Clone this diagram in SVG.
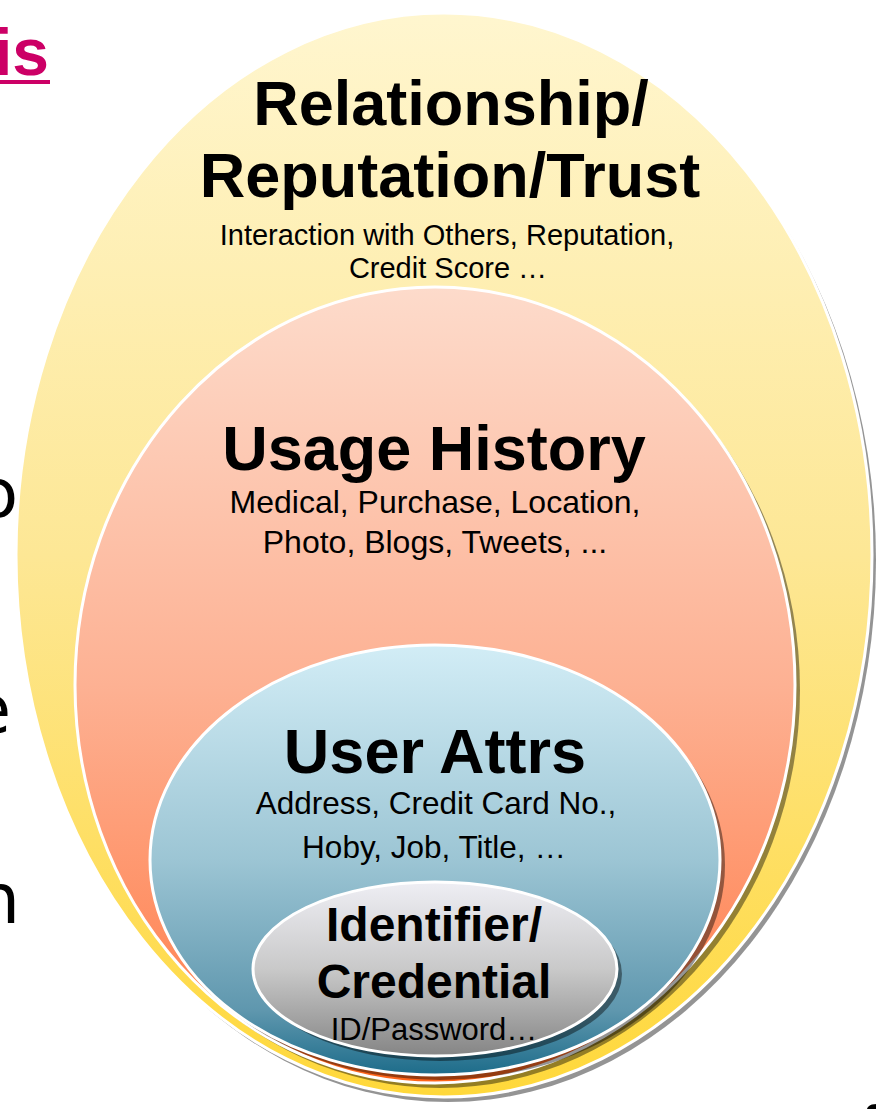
<svg xmlns="http://www.w3.org/2000/svg" width="876" height="1109" viewBox="0 0 876 1109">
<defs>
<linearGradient id="gY" x1="0" y1="0" x2="0" y2="1">
<stop offset="0" stop-color="#fff6cf"/>
<stop offset="0.5" stop-color="#fde795"/>
<stop offset="1" stop-color="#ffd83a"/>
</linearGradient>
<linearGradient id="gS" x1="0" y1="0" x2="0" y2="1">
<stop offset="0" stop-color="#fddbcb"/>
<stop offset="0.5" stop-color="#fdb193"/>
<stop offset="0.85" stop-color="#ff8a5c"/>
<stop offset="1" stop-color="#ff6418"/>
</linearGradient>
<linearGradient id="gB" x1="0" y1="0" x2="0" y2="1">
<stop offset="0" stop-color="#d2edf6"/>
<stop offset="0.5" stop-color="#9cc5d4"/>
<stop offset="0.85" stop-color="#5f97ae"/>
<stop offset="1" stop-color="#1d6c8a"/>
</linearGradient>
<linearGradient id="gG" x1="0" y1="0" x2="0" y2="1">
<stop offset="0" stop-color="#eeeef4"/>
<stop offset="0.5" stop-color="#c9c9c9"/>
<stop offset="1" stop-color="#858585"/>
</linearGradient>
</defs>
<style>
.shadow{fill:#000;opacity:0.42}
.ell{stroke:#fff;stroke-width:3}
.title{font-family:"Liberation Sans",Arial,sans-serif;font-weight:bold;fill:#000;text-anchor:middle}
.sub{font-family:"Liberation Sans",Arial,sans-serif;fill:#000;text-anchor:middle}
.side{font-family:"DejaVu Sans","Liberation Sans",sans-serif;fill:#000;text-anchor:end}
</style>
<g id="slide-text">
<text x="49" y="75" font-family="Liberation Sans, Arial, sans-serif" font-weight="bold" font-size="66" fill="#cc0066" text-anchor="end">is</text>
<rect x="0" y="80" width="50" height="4" fill="#cc0066"/>
<text class="side" x="18" y="517" font-size="68">o</text>
<text class="side" x="11" y="733" font-size="68">e</text>
<text class="side" x="20" y="923" font-size="70">n</text>
<text x="860" y="1152" font-family="Liberation Sans, Arial, sans-serif" font-weight="bold" font-size="66" fill="#000">f</text>
</g>
<g id="node-relationship">
<ellipse class="shadow" cx="448" cy="560" rx="428" ry="542"/>
<ellipse class="ell" cx="444" cy="555" rx="428" ry="542" fill="url(#gY)"/>
<text class="title" x="451" y="125" font-size="63">Relationship/</text>
<text class="title" x="450" y="197" font-size="63">Reputation/Trust</text>
<text class="sub" x="447" y="245" font-size="29">Interaction with Others, Reputation,</text>
<text class="sub" x="448" y="278" font-size="29">Credit Score …</text>
</g>
<g id="node-usage">
<ellipse class="shadow" cx="440" cy="690" rx="360" ry="398"/>
<ellipse class="ell" cx="435" cy="685" rx="360" ry="398" fill="url(#gS)"/>
<text class="title" x="434" y="470" font-size="63">Usage History</text>
<text class="sub" x="435" y="513" font-size="32">Medical, Purchase, Location,</text>
<text class="sub" x="435" y="553" font-size="32">Photo, Blogs, Tweets, ...</text>
</g>
<g id="node-attrs">
<ellipse class="shadow" cx="440" cy="865" rx="285" ry="215"/>
<ellipse class="ell" cx="435" cy="860" rx="285" ry="215" fill="url(#gB)"/>
<text class="title" x="435" y="773" font-size="63">User Attrs</text>
<text class="sub" x="436" y="814" font-size="31.5">Address, Credit Card No.,</text>
<text class="sub" x="434" y="858" font-size="31.5">Hoby, Job, Title, …</text>
</g>
<g id="node-identifier">
<ellipse class="shadow" cx="440" cy="974" rx="182" ry="87"/>
<ellipse class="ell" cx="435" cy="969" rx="182" ry="87" fill="url(#gG)"/>
<text class="title" x="434" y="941" font-size="48">Identifier/</text>
<text class="title" x="434" y="998" font-size="48">Credential</text>
<text class="sub" x="434" y="1040" font-size="31">ID/Password…</text>
</g>
<g id="connectors"/>
</svg>
